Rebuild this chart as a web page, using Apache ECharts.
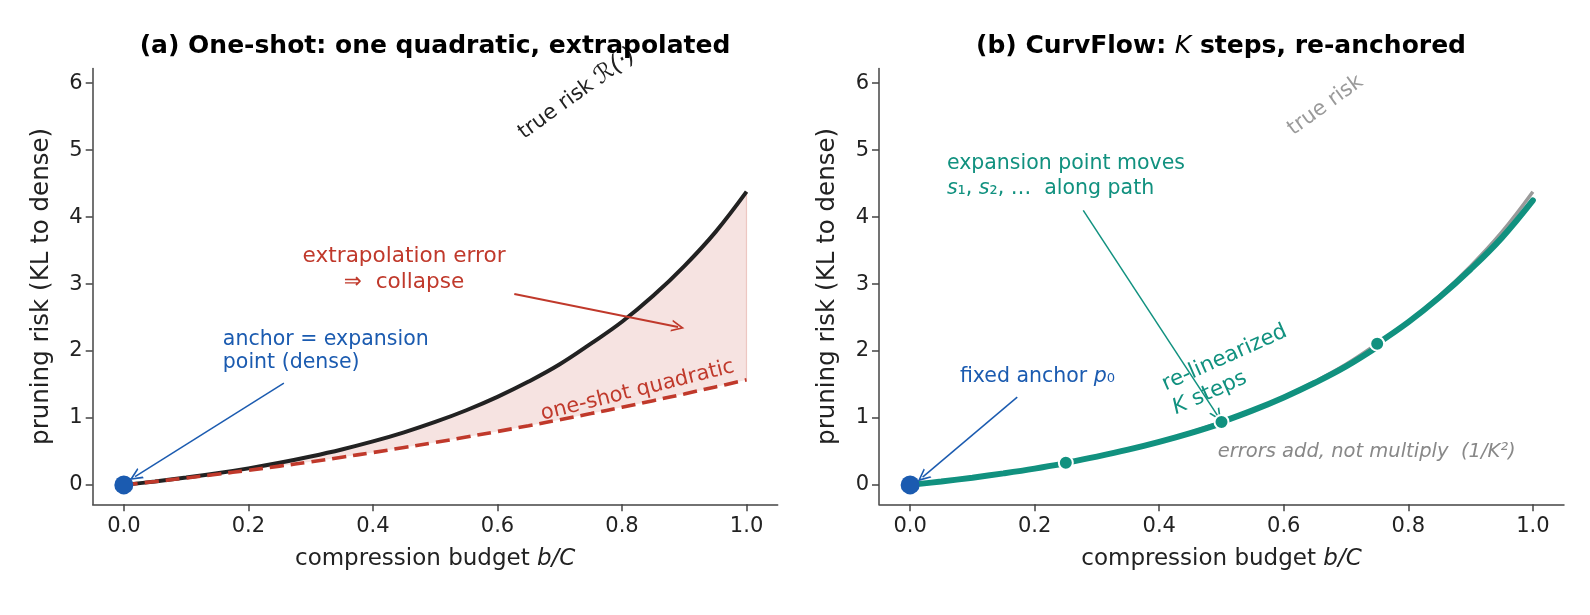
<!DOCTYPE html>
<html>
<head>
<meta charset="utf-8">
<script src="https://cdn.jsdelivr.net/npm/echarts@6/dist/echarts.min.js"></script>
<style>
  html, body { margin: 0; padding: 0; background: #fff; }
  #chart { width: 1590px; height: 615px; }
</style>
</head>
<body>
<div id="chart"></div>
<script>
// budget grid (b/C) and the curves
const budget = [0, 0.05, 0.1, 0.15, 0.2, 0.25, 0.3, 0.35, 0.4, 0.45, 0.5,
  0.55, 0.6, 0.65, 0.7, 0.75, 0.8, 0.85, 0.9, 0.95, 1.0];
const trueRisk = [0, 0.051, 0.109, 0.174, 0.247, 0.33, 0.424, 0.529, 0.649, 0.785, 0.94,
  1.115, 1.315, 1.543, 1.802, 2.11, 2.437, 2.824, 3.268, 3.776, 4.38];
const oneShotQuad = [0, 0.05, 0.103, 0.159, 0.218, 0.28, 0.345, 0.413, 0.484, 0.558, 0.635,
  0.715, 0.798, 0.884, 0.973, 1.065, 1.16, 1.258, 1.359, 1.463, 1.57];

// CurvFlow path, re-anchored at every knot (repeated x = new segment)
const curvBudget = [0, 0.05, 0.1, 0.15, 0.2, 0.25,
  0.25, 0.3, 0.35, 0.4, 0.45, 0.5,
  0.5, 0.55, 0.6, 0.65, 0.7, 0.75,
  0.75, 0.8, 0.85, 0.9, 0.95, 1.0];
const curvRisk = [0, 0.051, 0.108, 0.172, 0.243, 0.325,
  0.33, 0.423, 0.526, 0.643, 0.774, 0.92,
  0.94, 1.113, 1.307, 1.525, 1.77, 2.06,
  2.11, 2.432, 2.803, 3.221, 3.69, 4.25];
const knotBudget = [0.25, 0.5, 0.75];
const knotRisk = [0.33, 0.94, 2.11];
const anchor = [0, 0];

const xTicks = [0, 0.2, 0.4, 0.6, 0.8, 1.0];
const yTicks = [0, 1, 2, 3, 4, 5, 6];

const RED = '#c0392b', BLUE = '#1b5bb0', TEAL = '#11917f', GREY = '#9a9a9a', INK = '#222222';
const FONT = 'DejaVu Sans';

const zip = (xs, ys) => xs.map((x, i) => [x, ys[i]]);

// split curv path into segments where x repeats
const curvSegments = [];
let seg = [];
curvBudget.forEach((x, i) => {
  if (seg.length && seg[seg.length - 1][0] === x) { curvSegments.push(seg); seg = []; }
  seg.push([x, curvRisk[i]]);
});
curvSegments.push(seg);

const arrowHead = 'path://M0,10 L5,0 L10,10 L8.5,10 L5,3 L1.5,10 Z';
function arrow(from, to, color, width) {
  return [
    { coord: from, symbol: 'none', lineStyle: { color: color, width: width, type: 'solid' } },
    { coord: to, symbol: arrowHead, symbolSize: [12, 13] }
  ];
}
function note(coord, text, opts) {
  const o = opts || {};
  const size = o.size || 21;
  const lh = o.lh || 25;
  return {
    coord: coord,
    symbol: 'circle',
    symbolSize: 0,
    label: {
      show: true,
      formatter: text,
      position: o.left ? 'right' : 'inside',
      distance: 0,
      rotate: o.rotate || 0,
      color: o.color,
      fontFamily: FONT,
      fontSize: size,
      fontStyle: o.italic ? 'italic' : 'normal',
      lineHeight: lh,
      align: o.left ? 'left' : 'center',
      verticalAlign: 'middle',
      rich: {
        i: { fontStyle: 'italic', fontFamily: FONT, fontSize: size, color: o.color, lineHeight: lh },
        r: { fontStyle: 'italic', fontFamily: FONT, fontSize: size + 3, color: o.color, lineHeight: lh }
      }
    }
  };
}

function xAxis(grid) {
  return {
    type: 'value', gridIndex: grid, min: -0.05, max: 1.05,
    name: 'compression budget {i|b/C}', nameLocation: 'middle', nameGap: 43,
    nameTextStyle: {
      fontFamily: FONT, fontSize: 23, color: INK,
      rich: { i: { fontStyle: 'italic', fontFamily: FONT, fontSize: 23, color: INK } }
    },
    axisLine: { onZero: false, lineStyle: { color: '#444', width: 1.5 } },
    axisTick: { customValues: xTicks, length: 7, lineStyle: { color: '#444', width: 1.5 } },
    axisLabel: {
      customValues: xTicks, formatter: v => v.toFixed(1), margin: 12,
      fontFamily: FONT, fontSize: 21, color: INK
    },
    splitLine: { show: false }
  };
}
function yAxis(grid) {
  return {
    type: 'value', gridIndex: grid, min: -0.29, max: 6.22,
    name: 'pruning risk (KL to dense)', nameLocation: 'middle', nameGap: 39,
    nameTextStyle: { fontFamily: FONT, fontSize: 24.5, color: INK },
    axisLine: { show: true, onZero: false, lineStyle: { color: '#444', width: 1.5 } },
    axisTick: { show: true, customValues: yTicks, length: 7, lineStyle: { color: '#444', width: 1.5 } },
    axisLabel: {
      customValues: yTicks, formatter: v => String(v), margin: 10,
      fontFamily: FONT, fontSize: 21, color: INK
    },
    splitLine: { show: false }
  };
}

const option = {
  animation: false,
  backgroundColor: '#ffffff',
  title: [
    {
      text: '(a) One-shot: one quadratic, extrapolated',
      left: 435, top: 34, textAlign: 'center', padding: 0,
      textStyle: { fontFamily: FONT, fontWeight: 'bold', fontSize: 25, color: '#000' }
    },
    {
      text: '(b) CurvFlow: {k|K} steps, re-anchored',
      left: 1221, top: 34, textAlign: 'center', padding: 0,
      textStyle: {
        fontFamily: FONT, fontWeight: 'bold', fontSize: 25, color: '#000',
        rich: { k: { fontFamily: FONT, fontStyle: 'italic', fontWeight: 'normal', fontSize: 25, color: '#000' } }
      }
    }
  ],
  grid: [
    { left: 92.7, top: 68.5, width: 685, height: 435.8 },
    { left: 879, top: 68.5, width: 685, height: 435.8 }
  ],
  xAxis: [xAxis(0), xAxis(1)],
  yAxis: [yAxis(0), yAxis(1)],
  series: [
    // ---- panel (a)
    {
      name: 'gap', type: 'custom', xAxisIndex: 0, yAxisIndex: 0,
      data: zip(budget, trueRisk), encode: { x: 0, y: 1 }, silent: true, z: 1, clip: true,
      renderItem: (params, api) => {
        if (params.dataIndex !== 0) return null;
        const upper = budget.map((b, i) => api.coord([b, trueRisk[i]]));
        const lower = budget.map((b, i) => api.coord([b, oneShotQuad[i]])).reverse();
        return {
          type: 'polygon',
          shape: { points: upper.concat(lower) },
          style: { fill: 'rgba(192,57,43,0.14)', stroke: null }
        };
      }
    },
    {
      name: 'true risk', type: 'line', xAxisIndex: 0, yAxisIndex: 0,
      data: zip(budget, trueRisk), symbol: 'none', smooth: 0.4,
      lineStyle: { color: INK, width: 4 }, z: 3,
      markLine: {
        silent: true, symbol: 'none', label: { show: false }, z: 1,
        data: [[
          { coord: [1.0, oneShotQuad[oneShotQuad.length - 1]], lineStyle: { color: 'rgba(192,57,43,0.22)', width: 1.2, type: 'solid' } },
          { coord: [1.0, trueRisk[trueRisk.length - 1]] }
        ]]
      }
    },
    {
      name: 'one-shot quadratic', type: 'line', xAxisIndex: 0, yAxisIndex: 0,
      data: zip(budget, oneShotQuad), symbol: 'none', smooth: 0.4,
      lineStyle: { color: RED, width: 3.6, type: [14, 7] }, z: 4
    },
    {
      name: 'anchorA', type: 'scatter', xAxisIndex: 0, yAxisIndex: 0,
      data: [anchor], symbolSize: 19, itemStyle: { color: BLUE, opacity: 1 }, z: 6,
      markLine: {
        silent: true, label: { show: false }, animation: false,
        data: [
          arrow([0.627, 2.85], [0.89, 2.36], RED, 2),
          arrow([0.257, 1.52], [0.018, 0.125], BLUE, 1.5)
        ]
      },
      markPoint: {
        silent: true, animation: false,
        data: [
          note([0.728, 5.84], 'true risk {r|ℛ(·)}', { color: INK, rotate: 36, size: 21 }),
          note([0.45, 3.22], 'extrapolation error\n⇒  collapse', { color: RED, size: 21.6, lh: 26 }),
          note([0.825, 1.41], 'one-shot quadratic', { color: RED, rotate: 14 }),
          note([0.159, 1.99], 'anchor = expansion\npoint (dense)', { color: BLUE, size: 20.5, left: true, lh: 23 })
        ]
      }
    },
    // ---- panel (b)
    {
      name: 'true risk b', type: 'line', xAxisIndex: 1, yAxisIndex: 1,
      data: zip(budget, trueRisk), symbol: 'none', smooth: 0.4,
      lineStyle: { color: GREY, width: 3.5 }, z: 2
    },
    ...curvSegments.map((s, i) => ({
      name: 'curvflow ' + i, type: 'line', xAxisIndex: 1, yAxisIndex: 1,
      data: s, symbol: 'none', smooth: 0.4,
      lineStyle: { color: TEAL, width: 6, cap: 'round' }, z: 3
    })),
    {
      name: 'knots', type: 'scatter', xAxisIndex: 1, yAxisIndex: 1,
      data: zip(knotBudget, knotRisk), symbolSize: 14,
      itemStyle: { color: TEAL, borderColor: '#fff', borderWidth: 2, opacity: 1 }, z: 5
    },
    {
      name: 'anchorB', type: 'scatter', xAxisIndex: 1, yAxisIndex: 1,
      data: [anchor], symbolSize: 19, itemStyle: { color: BLUE, opacity: 1 }, z: 6,
      markLine: {
        silent: true, label: { show: false }, animation: false,
        data: [
          arrow([0.278, 4.1], [0.494, 1.03], TEAL, 1.5),
          arrow([0.172, 1.31], [0.02, 0.115], BLUE, 1.5)
        ]
      },
      markPoint: {
        silent: true, animation: false,
        data: [
          note([0.667, 5.67], 'true risk', { color: GREY, rotate: 36 }),
          note([0.059, 4.61], 'expansion point moves\n{i|s}₁, {i|s}₂, …  along path', { color: TEAL, size: 20.5, left: true, lh: 25 }),
          note([0.415, 1.31], 're-linearized\n{i|K} steps', { color: TEAL, rotate: 24, size: 21.5, left: true, lh: 26 }),
          note([0.08, 1.61], 'fixed anchor {i|p}₀', { color: BLUE, size: 20.5, left: true }),
          note([0.494, 0.49], 'errors add, not multiply  (1/K²)', { color: '#888', size: 19.5, left: true, italic: true })
        ]
      }
    }
  ]
};

const chart = echarts.init(document.getElementById('chart'), null, { renderer: 'canvas' });
chart.setOption(option);
</script>
</body>
</html>
